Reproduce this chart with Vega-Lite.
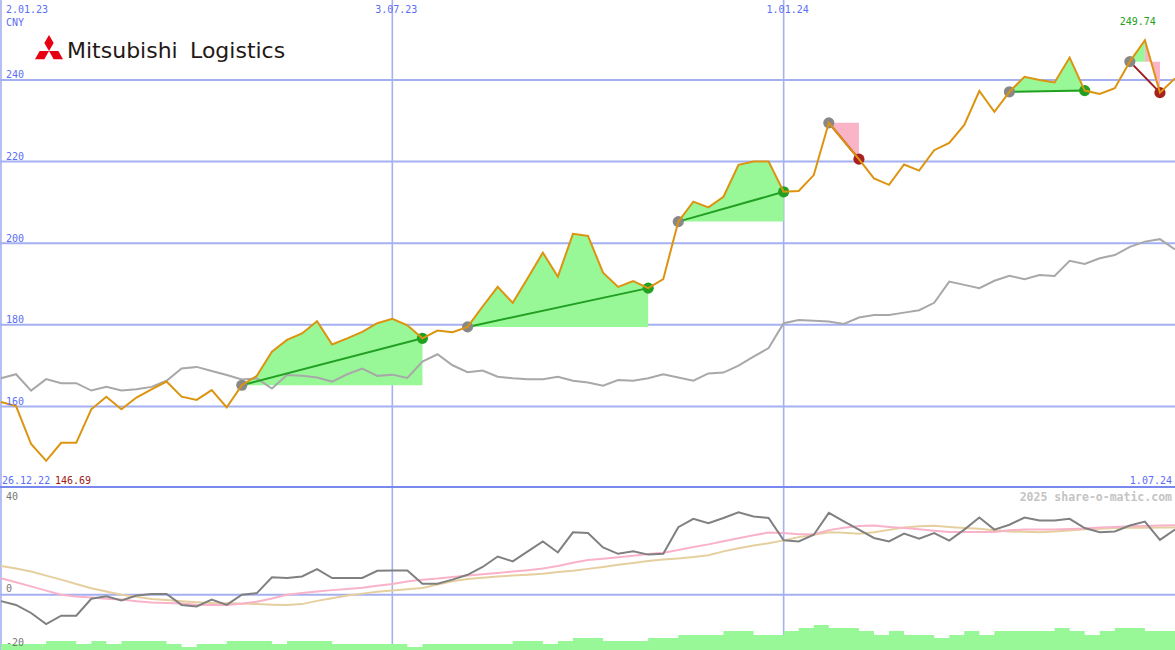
{
  "$schema": "https://vega.github.io/schema/vega-lite/v6.json",
  "width": 1175,
  "height": 650,
  "autosize": "none",
  "padding": 0,
  "background": "#ffffff",
  "config": {"view": {"stroke": null}},
  "resolve": {"scale": {"y": "independent", "color": "independent"}},
  "datasets": {
    "w": [
      {"d":"2023-01-02","price":161.1,"bench":166.9,"mom":-2.4,"sig":6.1,"slow":10.7,"vol":6},
      {"d":"2023-01-09","price":160.1,"bench":167.9,"mom":-3.8,"sig":4.6,"slow":9.7,"vol":6},
      {"d":"2023-01-16","price":150.8,"bench":163.9,"mom":-6.8,"sig":3.1,"slow":8.6,"vol":6},
      {"d":"2023-01-23","price":146.69,"bench":166.7,"mom":-10.9,"sig":1.5,"slow":7.1,"vol":9},
      {"d":"2023-01-30","price":151.1,"bench":165.7,"mom":-7.8,"sig":0,"slow":5.6,"vol":9},
      {"d":"2023-02-06","price":151.1,"bench":165.7,"mom":-7.8,"sig":-0.7,"slow":4.0,"vol":6},
      {"d":"2023-02-13","price":159.3,"bench":163.9,"mom":-1.5,"sig":-1.0,"slow":2.4,"vol":9},
      {"d":"2023-02-20","price":162.4,"bench":164.8,"mom":-0.6,"sig":-1.5,"slow":1.2,"vol":6},
      {"d":"2023-02-27","price":159.3,"bench":163.9,"mom":-2.1,"sig":-1.8,"slow":0,"vol":9},
      {"d":"2023-03-06","price":162.2,"bench":164.2,"mom":-0.3,"sig":-2.4,"slow":-0.8,"vol":9},
      {"d":"2023-03-13","price":164.2,"bench":164.8,"mom":0.3,"sig":-2.9,"slow":-1.6,"vol":9},
      {"d":"2023-03-20","price":166.1,"bench":166.3,"mom":0.3,"sig":-3.1,"slow":-2.0,"vol":6},
      {"d":"2023-03-27","price":162.4,"bench":169.3,"mom":-3.8,"sig":-3.3,"slow":-2.4,"vol":3},
      {"d":"2023-04-03","price":161.6,"bench":169.7,"mom":-4.4,"sig":-3.7,"slow":-2.8,"vol":6},
      {"d":"2023-04-10","price":164.0,"bench":168.7,"mom":-1.8,"sig":-3.8,"slow":-3.1,"vol":6},
      {"d":"2023-04-17","price":159.8,"bench":167.7,"mom":-3.8,"sig":-3.8,"slow":-3.2,"vol":9},
      {"d":"2023-04-24","price":165.2,"bench":166.6,"mom":0,"sig":-3.4,"slow":-3.3,"vol":9},
      {"d":"2023-05-01","price":167.5,"bench":166.9,"mom":0.6,"sig":-2.6,"slow":-3.5,"vol":9},
      {"d":"2023-05-08","price":173.4,"bench":164.4,"mom":6.5,"sig":-1.4,"slow":-3.7,"vol":6},
      {"d":"2023-05-15","price":176.3,"bench":167.7,"mom":6.2,"sig":0,"slow":-3.8,"vol":9},
      {"d":"2023-05-22","price":177.9,"bench":167.5,"mom":6.8,"sig":0.6,"slow":-3.5,"vol":9},
      {"d":"2023-05-29","price":180.9,"bench":167.1,"mom":9.5,"sig":1.2,"slow":-2.3,"vol":9},
      {"d":"2023-06-05","price":175.2,"bench":166.1,"mom":6.2,"sig":1.7,"slow":-1.3,"vol":6},
      {"d":"2023-06-12","price":176.7,"bench":167.9,"mom":6.2,"sig":2.1,"slow":-0.3,"vol":6},
      {"d":"2023-06-19","price":178.3,"bench":169.3,"mom":6.2,"sig":2.6,"slow":0.4,"vol":6},
      {"d":"2023-06-26","price":180.4,"bench":167.5,"mom":8.9,"sig":3.3,"slow":1.1,"vol":6},
      {"d":"2023-07-03","price":181.5,"bench":167.8,"mom":9.0,"sig":4.0,"slow":1.6,"vol":6},
      {"d":"2023-07-10","price":179.9,"bench":167.0,"mom":9.0,"sig":4.9,"slow":2.0,"vol":3},
      {"d":"2023-07-17","price":176.7,"bench":171.0,"mom":4.1,"sig":5.6,"slow":2.5,"vol":6},
      {"d":"2023-07-24","price":178.6,"bench":172.8,"mom":4.1,"sig":6.0,"slow":3.8,"vol":6},
      {"d":"2023-07-31","price":178.2,"bench":170.1,"mom":5.6,"sig":6.6,"slow":5.0,"vol":6},
      {"d":"2023-08-07","price":179.5,"bench":168.4,"mom":7.4,"sig":7.1,"slow":5.8,"vol":6},
      {"d":"2023-08-14","price":184.5,"bench":168.8,"mom":10.3,"sig":7.6,"slow":6.3,"vol":6},
      {"d":"2023-08-21","price":189.3,"bench":167.3,"mom":14.2,"sig":8.1,"slow":6.8,"vol":6},
      {"d":"2023-08-28","price":185.4,"bench":166.9,"mom":12.4,"sig":8.6,"slow":7.1,"vol":9},
      {"d":"2023-09-04","price":191.5,"bench":166.7,"mom":16.1,"sig":9.1,"slow":7.4,"vol":9},
      {"d":"2023-09-11","price":197.7,"bench":166.7,"mom":19.8,"sig":9.7,"slow":7.8,"vol":6},
      {"d":"2023-09-18","price":191.8,"bench":167.3,"mom":15.7,"sig":10.7,"slow":8.4,"vol":9},
      {"d":"2023-09-25","price":202.3,"bench":166.3,"mom":23.2,"sig":11.9,"slow":8.9,"vol":12},
      {"d":"2023-10-02","price":201.8,"bench":165.9,"mom":22.9,"sig":12.9,"slow":9.6,"vol":12},
      {"d":"2023-10-09","price":192.8,"bench":165.1,"mom":17.6,"sig":13.4,"slow":10.3,"vol":9},
      {"d":"2023-10-16","price":189.3,"bench":166.5,"mom":15.2,"sig":13.9,"slow":11.1,"vol":9},
      {"d":"2023-10-23","price":190.7,"bench":166.3,"mom":16.1,"sig":14.5,"slow":11.8,"vol":9},
      {"d":"2023-10-30","price":189.0,"bench":166.9,"mom":14.9,"sig":15.1,"slow":12.5,"vol":12},
      {"d":"2023-11-06","price":191.2,"bench":167.9,"mom":15.2,"sig":15.6,"slow":13.1,"vol":12},
      {"d":"2023-11-13","price":205.3,"bench":167.1,"mom":25.1,"sig":16.6,"slow":13.5,"vol":15},
      {"d":"2023-11-20","price":210.2,"bench":166.3,"mom":28.2,"sig":17.7,"slow":14.0,"vol":15},
      {"d":"2023-11-27","price":208.8,"bench":168.1,"mom":26.6,"sig":18.7,"slow":14.7,"vol":15},
      {"d":"2023-12-04","price":211.4,"bench":168.3,"mom":28.5,"sig":19.9,"slow":16.1,"vol":19},
      {"d":"2023-12-11","price":219.2,"bench":170.0,"mom":30.6,"sig":21.0,"slow":17.3,"vol":19},
      {"d":"2023-12-18","price":220.0,"bench":172.2,"mom":29.1,"sig":22.1,"slow":18.3,"vol":15},
      {"d":"2023-12-25","price":220.0,"bench":174.3,"mom":28.5,"sig":23.1,"slow":19.1,"vol":15},
      {"d":"2024-01-01","price":212.6,"bench":180.4,"mom":20.2,"sig":22.9,"slow":20.2,"vol":19},
      {"d":"2024-01-08","price":212.8,"bench":181.2,"mom":19.8,"sig":22.5,"slow":21.4,"vol":22},
      {"d":"2024-01-15","price":216.7,"bench":181.0,"mom":22.3,"sig":22.5,"slow":22.3,"vol":25},
      {"d":"2024-01-22","price":229.5,"bench":180.8,"mom":30.4,"sig":24.0,"slow":23.2,"vol":22},
      {"d":"2024-01-29","price":225.0,"bench":180.2,"mom":27.3,"sig":24.9,"slow":23.0,"vol":22},
      {"d":"2024-02-05","price":220.6,"bench":181.8,"mom":24.2,"sig":25.5,"slow":22.7,"vol":19},
      {"d":"2024-02-12","price":215.9,"bench":182.4,"mom":21.1,"sig":25.7,"slow":23.2,"vol":15},
      {"d":"2024-02-19","price":214.3,"bench":182.4,"mom":19.8,"sig":25.2,"slow":24.1,"vol":19},
      {"d":"2024-02-26","price":219.3,"bench":183.0,"mom":22.7,"sig":24.8,"slow":25.0,"vol":15},
      {"d":"2024-03-04","price":217.8,"bench":183.6,"mom":20.8,"sig":24.3,"slow":25.4,"vol":15},
      {"d":"2024-03-11","price":222.8,"bench":185.4,"mom":22.9,"sig":23.8,"slow":25.6,"vol":12},
      {"d":"2024-03-18","price":224.6,"bench":190.6,"mom":20.1,"sig":23.3,"slow":25.2,"vol":15},
      {"d":"2024-03-25","price":229.0,"bench":189.8,"mom":24.2,"sig":23.3,"slow":24.8,"vol":19},
      {"d":"2024-04-01","price":237.3,"bench":189.0,"mom":28.7,"sig":23.3,"slow":24.5,"vol":15},
      {"d":"2024-04-08","price":232.2,"bench":190.8,"mom":24.2,"sig":23.3,"slow":24.0,"vol":19},
      {"d":"2024-04-15","price":237.1,"bench":192.0,"mom":26.0,"sig":24.0,"slow":23.5,"vol":19},
      {"d":"2024-04-22","price":240.8,"bench":191.2,"mom":28.7,"sig":24.2,"slow":23.4,"vol":19},
      {"d":"2024-04-29","price":240.0,"bench":192.2,"mom":27.6,"sig":24.2,"slow":23.2,"vol":19},
      {"d":"2024-05-06","price":239.4,"bench":192.0,"mom":27.6,"sig":24.2,"slow":23.5,"vol":22},
      {"d":"2024-05-13","price":245.5,"bench":195.7,"mom":28.2,"sig":24.4,"slow":23.9,"vol":19},
      {"d":"2024-05-20","price":237.4,"bench":194.9,"mom":24.8,"sig":24.6,"slow":24.3,"vol":15},
      {"d":"2024-05-27","price":236.6,"bench":196.3,"mom":23.2,"sig":25.0,"slow":24.5,"vol":19},
      {"d":"2024-06-03","price":238.0,"bench":197.1,"mom":23.5,"sig":25.2,"slow":24.8,"vol":22},
      {"d":"2024-06-10","price":244.5,"bench":199.1,"mom":25.7,"sig":25.4,"slow":24.9,"vol":22},
      {"d":"2024-06-17","price":249.74,"bench":200.4,"mom":27.2,"sig":25.5,"slow":24.9,"vol":19},
      {"d":"2024-06-24","price":236.9,"bench":201.0,"mom":20.4,"sig":25.7,"slow":25.0,"vol":19},
      {"d":"2024-07-01","price":240.4,"bench":198.5,"mom":24.2,"sig":25.8,"slow":25.0,"vol":19}
    ],
    "fills": [
      {"grp":"1","kind":"up","d":"2023-04-24","price":165.2,"base":165.2},
      {"grp":"1","kind":"up","d":"2023-05-01","price":167.5,"base":165.2},
      {"grp":"1","kind":"up","d":"2023-05-08","price":173.4,"base":165.2},
      {"grp":"1","kind":"up","d":"2023-05-15","price":176.3,"base":165.2},
      {"grp":"1","kind":"up","d":"2023-05-22","price":177.9,"base":165.2},
      {"grp":"1","kind":"up","d":"2023-05-29","price":180.9,"base":165.2},
      {"grp":"1","kind":"up","d":"2023-06-05","price":175.2,"base":165.2},
      {"grp":"1","kind":"up","d":"2023-06-12","price":176.7,"base":165.2},
      {"grp":"1","kind":"up","d":"2023-06-19","price":178.3,"base":165.2},
      {"grp":"1","kind":"up","d":"2023-06-26","price":180.4,"base":165.2},
      {"grp":"1","kind":"up","d":"2023-07-03","price":181.5,"base":165.2},
      {"grp":"1","kind":"up","d":"2023-07-10","price":179.9,"base":165.2},
      {"grp":"1","kind":"up","d":"2023-07-17","price":176.7,"base":165.2},
      {"grp":"2","kind":"up","d":"2023-08-07","price":179.5,"base":179.5},
      {"grp":"2","kind":"up","d":"2023-08-14","price":184.5,"base":179.5},
      {"grp":"2","kind":"up","d":"2023-08-21","price":189.3,"base":179.5},
      {"grp":"2","kind":"up","d":"2023-08-28","price":185.4,"base":179.5},
      {"grp":"2","kind":"up","d":"2023-09-04","price":191.5,"base":179.5},
      {"grp":"2","kind":"up","d":"2023-09-11","price":197.7,"base":179.5},
      {"grp":"2","kind":"up","d":"2023-09-18","price":191.8,"base":179.5},
      {"grp":"2","kind":"up","d":"2023-09-25","price":202.3,"base":179.5},
      {"grp":"2","kind":"up","d":"2023-10-02","price":201.8,"base":179.5},
      {"grp":"2","kind":"up","d":"2023-10-09","price":192.8,"base":179.5},
      {"grp":"2","kind":"up","d":"2023-10-16","price":189.3,"base":179.5},
      {"grp":"2","kind":"up","d":"2023-10-23","price":190.7,"base":179.5},
      {"grp":"2","kind":"up","d":"2023-10-30","price":189.0,"base":179.5},
      {"grp":"3","kind":"up","d":"2023-11-13","price":205.3,"base":205.3},
      {"grp":"3","kind":"up","d":"2023-11-20","price":210.2,"base":205.3},
      {"grp":"3","kind":"up","d":"2023-11-27","price":208.8,"base":205.3},
      {"grp":"3","kind":"up","d":"2023-12-04","price":211.4,"base":205.3},
      {"grp":"3","kind":"up","d":"2023-12-11","price":219.2,"base":205.3},
      {"grp":"3","kind":"up","d":"2023-12-18","price":220.0,"base":205.3},
      {"grp":"3","kind":"up","d":"2023-12-25","price":220.0,"base":205.3},
      {"grp":"3","kind":"up","d":"2024-01-01","price":212.6,"base":205.3},
      {"grp":"4","kind":"down","d":"2024-01-22","price":229.5,"base":229.5},
      {"grp":"4","kind":"down","d":"2024-01-29","price":225.0,"base":229.5},
      {"grp":"4","kind":"down","d":"2024-02-05","price":220.6,"base":229.5},
      {"grp":"5","kind":"up","d":"2024-04-15","price":237.1,"base":237.1},
      {"grp":"5","kind":"up","d":"2024-04-22","price":240.8,"base":237.1},
      {"grp":"5","kind":"up","d":"2024-04-29","price":240.0,"base":237.1},
      {"grp":"5","kind":"up","d":"2024-05-06","price":239.4,"base":237.1},
      {"grp":"5","kind":"up","d":"2024-05-13","price":245.5,"base":237.1},
      {"grp":"5","kind":"up","d":"2024-05-20","price":237.4,"base":237.1},
      {"grp":"6b","kind":"down","d":"2024-06-17","price":249.74,"base":244.5},
      {"grp":"6b","kind":"down","d":"2024-06-24","price":236.9,"base":244.5},
      {"grp":"6a","kind":"up","d":"2024-06-10","price":244.5,"base":244.5},
      {"grp":"6a","kind":"up","d":"2024-06-17","price":249.74,"base":244.5}
    ],
    "trend": [
      {"grp":"1","kind":"up","role":"start","d":"2023-04-24","price":165.2},
      {"grp":"1","kind":"up","role":"end","d":"2023-07-17","price":176.7},
      {"grp":"2","kind":"up","role":"start","d":"2023-08-07","price":179.5},
      {"grp":"2","kind":"up","role":"end","d":"2023-10-30","price":189.0},
      {"grp":"3","kind":"up","role":"start","d":"2023-11-13","price":205.3},
      {"grp":"3","kind":"up","role":"end","d":"2024-01-01","price":212.6},
      {"grp":"4","kind":"down","role":"start","d":"2024-01-22","price":229.5},
      {"grp":"4","kind":"down","role":"end","d":"2024-02-05","price":220.6},
      {"grp":"5","kind":"up","role":"start","d":"2024-04-15","price":237.1},
      {"grp":"5","kind":"up","role":"end","d":"2024-05-20","price":237.4},
      {"grp":"6","kind":"down","role":"start","d":"2024-06-10","price":244.5},
      {"grp":"6","kind":"down","role":"end","d":"2024-06-24","price":236.9}
    ],
    "grid": [
      {"d":"2023-01-02","t":"2.01.23"},
      {"d":"2023-07-03","t":"3.07.23"},
      {"d":"2024-01-01","t":"1.01.24"}
    ],
    "ylab": [
      {"d":"2023-01-02","v":160,"t":"160"},
      {"d":"2023-01-02","v":180,"t":"180"},
      {"d":"2023-01-02","v":200,"t":"200"},
      {"d":"2023-01-02","v":220,"t":"220"},
      {"d":"2023-01-02","v":240,"t":"240"}
    ],
    "top": [
      {"d":"2023-01-02","v":259.6,"t":"2.01.23"},
      {"d":"2023-07-03","v":259.6,"t":"3.07.23"},
      {"d":"2024-01-01","v":259.6,"t":"1.01.24"}
    ],
    "llab": [
      {"d":"2023-01-02","v":0,"t":"0"},
      {"d":"2023-01-02","v":-20,"t":"-20"}
    ]
  },
  "layer": [
    {
      "data": {"name": "grid"},
      "mark": {"type": "rule", "color": "#a4b0f0", "strokeWidth": 1.6},
      "encoding": {
        "x": {"field": "d", "type": "temporal", "axis": null, "scale": {"type": "utc", "domain": [{"year": 2023, "month": 1, "date": 1, "hours": 13, "utc": true}, {"year": 2024, "month": 7, "date": 1, "utc": true}]}}
      }
    },
    {
      "data": {"name": "ylab"},
      "mark": {"type": "rule", "color": "#a4b0f0", "strokeWidth": 2},
      "encoding": {
        "y": {"field": "v", "type": "quantitative", "axis": null, "scale": {"domain": [100.33, 259.6], "nice": false, "zero": false}}
      }
    },
    {
      "data": {"values": [{"v": 0}]},
      "mark": {"type": "rule", "color": "#a4b0f0", "strokeWidth": 2},
      "encoding": {
        "y": {"field": "v", "type": "quantitative", "axis": null, "scale": {"domain": [-20.56, 221.08], "nice": false, "zero": false}}
      }
    },
    {
      "data": {"values": [{"v": 40}]},
      "mark": {"type": "rule", "color": "#7888ee", "strokeWidth": 2},
      "encoding": {
        "y": {"field": "v", "type": "quantitative", "axis": null, "scale": {"domain": [-20.56, 221.08], "nice": false, "zero": false}}
      }
    },
    {
      "data": {"name": "w"},
      "mark": {"type": "area", "interpolate": "step-after", "color": "#98f898", "opacity": 1},
      "encoding": {
        "x": {"field": "d", "type": "temporal", "axis": null, "scale": {"type": "utc", "domain": [{"year": 2023, "month": 1, "date": 1, "hours": 13, "utc": true}, {"year": 2024, "month": 7, "date": 1, "utc": true}]}},
        "y": {"field": "vol", "type": "quantitative", "axis": null, "stack": null, "scale": {"domain": [0, 650], "nice": false, "zero": true}}
      }
    },
    {
      "data": {"name": "w"},
      "mark": {"type": "line", "color": "#e6cf9f", "strokeWidth": 2},
      "encoding": {
        "x": {"field": "d", "type": "temporal", "axis": null, "scale": {"type": "utc", "domain": [{"year": 2023, "month": 1, "date": 1, "hours": 13, "utc": true}, {"year": 2024, "month": 7, "date": 1, "utc": true}]}},
        "y": {"field": "slow", "type": "quantitative", "axis": null, "scale": {"domain": [-20.56, 221.08], "nice": false, "zero": false}}
      }
    },
    {
      "data": {"name": "w"},
      "mark": {"type": "line", "color": "#f9b3c9", "strokeWidth": 2},
      "encoding": {
        "x": {"field": "d", "type": "temporal", "axis": null, "scale": {"type": "utc", "domain": [{"year": 2023, "month": 1, "date": 1, "hours": 13, "utc": true}, {"year": 2024, "month": 7, "date": 1, "utc": true}]}},
        "y": {"field": "sig", "type": "quantitative", "axis": null, "scale": {"domain": [-20.56, 221.08], "nice": false, "zero": false}}
      }
    },
    {
      "data": {"name": "w"},
      "mark": {"type": "line", "color": "#808080", "strokeWidth": 2},
      "encoding": {
        "x": {"field": "d", "type": "temporal", "axis": null, "scale": {"type": "utc", "domain": [{"year": 2023, "month": 1, "date": 1, "hours": 13, "utc": true}, {"year": 2024, "month": 7, "date": 1, "utc": true}]}},
        "y": {"field": "mom", "type": "quantitative", "axis": null, "scale": {"domain": [-20.56, 221.08], "nice": false, "zero": false}}
      }
    },
    {
      "data": {"name": "fills"},
      "mark": {"type": "area", "opacity": 1},
      "encoding": {
        "x": {"field": "d", "type": "temporal", "axis": null, "scale": {"type": "utc", "domain": [{"year": 2023, "month": 1, "date": 1, "hours": 13, "utc": true}, {"year": 2024, "month": 7, "date": 1, "utc": true}]}},
        "y": {"field": "price", "type": "quantitative", "axis": null, "stack": null, "scale": {"domain": [100.33, 259.6], "nice": false, "zero": false}},
        "y2": {"field": "base"},
        "detail": {"field": "grp", "type": "nominal"},
        "color": {"field": "kind", "type": "nominal", "legend": null, "scale": {"domain": ["up", "down"], "range": ["#98f898", "#fab4c8"]}}
      }
    },
    {
      "data": {"name": "w"},
      "mark": {"type": "line", "color": "#a8a8a8", "strokeWidth": 2},
      "encoding": {
        "x": {"field": "d", "type": "temporal", "axis": null, "scale": {"type": "utc", "domain": [{"year": 2023, "month": 1, "date": 1, "hours": 13, "utc": true}, {"year": 2024, "month": 7, "date": 1, "utc": true}]}},
        "y": {"field": "bench", "type": "quantitative", "axis": null, "scale": {"domain": [100.33, 259.6], "nice": false, "zero": false}}
      }
    },
    {
      "data": {"name": "trend"},
      "mark": {"type": "line", "strokeWidth": 2},
      "encoding": {
        "x": {"field": "d", "type": "temporal", "axis": null, "scale": {"type": "utc", "domain": [{"year": 2023, "month": 1, "date": 1, "hours": 13, "utc": true}, {"year": 2024, "month": 7, "date": 1, "utc": true}]}},
        "y": {"field": "price", "type": "quantitative", "axis": null, "scale": {"domain": [100.33, 259.6], "nice": false, "zero": false}},
        "detail": {"field": "grp", "type": "nominal"},
        "color": {"field": "kind", "type": "nominal", "legend": null, "scale": {"domain": ["up", "down"], "range": ["#22a022", "#a01c1c"]}}
      }
    },
    {
      "data": {"name": "trend"},
      "transform": [{"filter": "datum.role === 'start'"}],
      "mark": {"type": "point", "filled": true, "size": 125, "opacity": 1, "color": "#888888"},
      "encoding": {
        "x": {"field": "d", "type": "temporal", "axis": null, "scale": {"type": "utc", "domain": [{"year": 2023, "month": 1, "date": 1, "hours": 13, "utc": true}, {"year": 2024, "month": 7, "date": 1, "utc": true}]}},
        "y": {"field": "price", "type": "quantitative", "axis": null, "scale": {"domain": [100.33, 259.6], "nice": false, "zero": false}}
      }
    },
    {
      "data": {"name": "trend"},
      "transform": [{"filter": "datum.role === 'end'"}],
      "mark": {"type": "point", "filled": true, "size": 125, "opacity": 1},
      "encoding": {
        "x": {"field": "d", "type": "temporal", "axis": null, "scale": {"type": "utc", "domain": [{"year": 2023, "month": 1, "date": 1, "hours": 13, "utc": true}, {"year": 2024, "month": 7, "date": 1, "utc": true}]}},
        "y": {"field": "price", "type": "quantitative", "axis": null, "scale": {"domain": [100.33, 259.6], "nice": false, "zero": false}},
        "color": {"field": "kind", "type": "nominal", "legend": null, "scale": {"domain": ["up", "down"], "range": ["#22a022", "#a82020"]}}
      }
    },
    {
      "data": {"name": "w"},
      "mark": {"type": "line", "color": "#dc9410", "strokeWidth": 2},
      "encoding": {
        "x": {"field": "d", "type": "temporal", "axis": null, "scale": {"type": "utc", "domain": [{"year": 2023, "month": 1, "date": 1, "hours": 13, "utc": true}, {"year": 2024, "month": 7, "date": 1, "utc": true}]}},
        "y": {"field": "price", "type": "quantitative", "axis": null, "scale": {"domain": [100.33, 259.6], "nice": false, "zero": false}}
      }
    },
    {
      "data": {"name": "ylab"},
      "mark": {"type": "text", "align": "left", "baseline": "alphabetic", "dx": 5, "dy": -1.5, "font": "DejaVu Sans Mono", "fontSize": 10, "color": "#5b6ef5"},
      "encoding": {
        "x": {"field": "d", "type": "temporal", "axis": null, "scale": {"type": "utc", "domain": [{"year": 2023, "month": 1, "date": 1, "hours": 13, "utc": true}, {"year": 2024, "month": 7, "date": 1, "utc": true}]}},
        "y": {"field": "v", "type": "quantitative", "axis": null, "scale": {"domain": [100.33, 259.6], "nice": false, "zero": false}},
        "text": {"field": "t"}
      }
    },
    {
      "data": {"name": "top"},
      "transform": [{"filter": "datum.t !== '2.01.23'"}],
      "mark": {"type": "text", "align": "center", "baseline": "alphabetic", "dx": 4, "dy": 12.5, "font": "DejaVu Sans Mono", "fontSize": 10, "color": "#5b6ef5"},
      "encoding": {
        "x": {"field": "d", "type": "temporal", "axis": null, "scale": {"type": "utc", "domain": [{"year": 2023, "month": 1, "date": 1, "hours": 13, "utc": true}, {"year": 2024, "month": 7, "date": 1, "utc": true}]}},
        "y": {"field": "v", "type": "quantitative", "axis": null, "scale": {"domain": [100.33, 259.6], "nice": false, "zero": false}},
        "text": {"field": "t"}
      }
    },
    {
      "data": {"name": "top"},
      "transform": [{"filter": "datum.t === '2.01.23'"}],
      "mark": {"type": "text", "align": "left", "baseline": "alphabetic", "dx": 5, "dy": 12.5, "font": "DejaVu Sans Mono", "fontSize": 10, "color": "#5b6ef5"},
      "encoding": {
        "x": {"field": "d", "type": "temporal", "axis": null, "scale": {"type": "utc", "domain": [{"year": 2023, "month": 1, "date": 1, "hours": 13, "utc": true}, {"year": 2024, "month": 7, "date": 1, "utc": true}]}},
        "y": {"field": "v", "type": "quantitative", "axis": null, "scale": {"domain": [100.33, 259.6], "nice": false, "zero": false}},
        "text": {"field": "t"}
      }
    },
    {
      "data": {"values": [{"d": "2023-01-02", "v": 259.6, "t": "CNY"}]},
      "mark": {"type": "text", "align": "left", "baseline": "alphabetic", "dx": 5, "dy": 25.5, "font": "DejaVu Sans Mono", "fontSize": 10, "color": "#5b6ef5"},
      "encoding": {
        "x": {"field": "d", "type": "temporal", "axis": null, "scale": {"type": "utc", "domain": [{"year": 2023, "month": 1, "date": 1, "hours": 13, "utc": true}, {"year": 2024, "month": 7, "date": 1, "utc": true}]}},
        "y": {"field": "v", "type": "quantitative", "axis": null, "scale": {"domain": [100.33, 259.6], "nice": false, "zero": false}},
        "text": {"field": "t"}
      }
    },
    {
      "data": {"values": [{"d": "2024-06-17", "v": 259.6, "t": "249.74"}]},
      "mark": {"type": "text", "align": "right", "baseline": "alphabetic", "dx": 11, "dy": 25, "font": "DejaVu Sans Mono", "fontSize": 10, "color": "#22a022"},
      "encoding": {
        "x": {"field": "d", "type": "temporal", "axis": null, "scale": {"type": "utc", "domain": [{"year": 2023, "month": 1, "date": 1, "hours": 13, "utc": true}, {"year": 2024, "month": 7, "date": 1, "utc": true}]}},
        "y": {"field": "v", "type": "quantitative", "axis": null, "scale": {"domain": [100.33, 259.6], "nice": false, "zero": false}},
        "text": {"field": "t"}
      }
    },
    {
      "data": {"values": [{"d": "2023-01-02", "v": 40, "t": "26.12.22"}]},
      "mark": {"type": "text", "align": "left", "baseline": "alphabetic", "dx": 1, "dy": -3.5, "font": "DejaVu Sans Mono", "fontSize": 10, "color": "#5b6ef5"},
      "encoding": {
        "x": {"field": "d", "type": "temporal", "axis": null, "scale": {"type": "utc", "domain": [{"year": 2023, "month": 1, "date": 1, "hours": 13, "utc": true}, {"year": 2024, "month": 7, "date": 1, "utc": true}]}},
        "y": {"field": "v", "type": "quantitative", "axis": null, "scale": {"domain": [-20.56, 221.08], "nice": false, "zero": false}},
        "text": {"field": "t"}
      }
    },
    {
      "data": {"values": [{"d": "2023-01-02", "v": 40, "t": "146.69"}]},
      "mark": {"type": "text", "align": "left", "baseline": "alphabetic", "dx": 54, "dy": -3.5, "font": "DejaVu Sans Mono", "fontSize": 10, "color": "#a01818"},
      "encoding": {
        "x": {"field": "d", "type": "temporal", "axis": null, "scale": {"type": "utc", "domain": [{"year": 2023, "month": 1, "date": 1, "hours": 13, "utc": true}, {"year": 2024, "month": 7, "date": 1, "utc": true}]}},
        "y": {"field": "v", "type": "quantitative", "axis": null, "scale": {"domain": [-20.56, 221.08], "nice": false, "zero": false}},
        "text": {"field": "t"}
      }
    },
    {
      "data": {"values": [{"d": "2024-07-01", "v": 40, "t": "1.07.24"}]},
      "mark": {"type": "text", "align": "right", "baseline": "alphabetic", "dx": -3, "dy": -3.5, "font": "DejaVu Sans Mono", "fontSize": 10, "color": "#5b6ef5"},
      "encoding": {
        "x": {"field": "d", "type": "temporal", "axis": null, "scale": {"type": "utc", "domain": [{"year": 2023, "month": 1, "date": 1, "hours": 13, "utc": true}, {"year": 2024, "month": 7, "date": 1, "utc": true}]}},
        "y": {"field": "v", "type": "quantitative", "axis": null, "scale": {"domain": [-20.56, 221.08], "nice": false, "zero": false}},
        "text": {"field": "t"}
      }
    },
    {
      "data": {"values": [{"d": "2023-01-02", "v": 40, "t": "40"}]},
      "mark": {"type": "text", "align": "left", "baseline": "alphabetic", "dx": 5, "dy": 12.5, "font": "DejaVu Sans Mono", "fontSize": 10, "color": "#777777"},
      "encoding": {
        "x": {"field": "d", "type": "temporal", "axis": null, "scale": {"type": "utc", "domain": [{"year": 2023, "month": 1, "date": 1, "hours": 13, "utc": true}, {"year": 2024, "month": 7, "date": 1, "utc": true}]}},
        "y": {"field": "v", "type": "quantitative", "axis": null, "scale": {"domain": [-20.56, 221.08], "nice": false, "zero": false}},
        "text": {"field": "t"}
      }
    },
    {
      "data": {"name": "llab"},
      "mark": {"type": "text", "align": "left", "baseline": "alphabetic", "dx": 5, "dy": -2.5, "font": "DejaVu Sans Mono", "fontSize": 10, "color": "#777777"},
      "encoding": {
        "x": {"field": "d", "type": "temporal", "axis": null, "scale": {"type": "utc", "domain": [{"year": 2023, "month": 1, "date": 1, "hours": 13, "utc": true}, {"year": 2024, "month": 7, "date": 1, "utc": true}]}},
        "y": {"field": "v", "type": "quantitative", "axis": null, "scale": {"domain": [-20.56, 221.08], "nice": false, "zero": false}},
        "text": {"field": "t"}
      }
    },
    {
      "data": {"values": [{"d": "2024-07-01", "v": 40, "t": "2025 share-o-matic.com"}]},
      "mark": {"type": "text", "align": "right", "baseline": "alphabetic", "dx": -3, "dy": 14, "font": "DejaVu Sans Mono", "fontSize": 11.5, "fontWeight": "bold", "color": "#c4c4c4"},
      "encoding": {
        "x": {"field": "d", "type": "temporal", "axis": null, "scale": {"type": "utc", "domain": [{"year": 2023, "month": 1, "date": 1, "hours": 13, "utc": true}, {"year": 2024, "month": 7, "date": 1, "utc": true}]}},
        "y": {"field": "v", "type": "quantitative", "axis": null, "scale": {"domain": [-20.56, 221.08], "nice": false, "zero": false}},
        "text": {"field": "t"}
      }
    },
    {
      "data": {"values": [{"d": "2023-01-24T08:00:00Z", "v": 248.08}]},
      "mark": {"type": "point", "filled": true, "opacity": 1, "size": 784, "strokeWidth": 0, "color": "#e60012", "shape": "M0,0.289L0.333,-0.289L0,-0.866L-0.333,-0.289ZM0,0.289L0.333,0.866L1,0.866L0.667,0.289ZM0,0.289L-0.333,0.866L-1,0.866L-0.667,0.289Z"},
      "encoding": {
        "x": {"field": "d", "type": "temporal", "axis": null, "scale": {"type": "utc", "domain": [{"year": 2023, "month": 1, "date": 1, "hours": 13, "utc": true}, {"year": 2024, "month": 7, "date": 1, "utc": true}]}},
        "y": {"field": "v", "type": "quantitative", "axis": null, "scale": {"domain": [100.33, 259.6], "nice": false, "zero": false}}
      }
    },
    {
      "data": {"values": [{"d": "2023-01-24T08:00:00Z", "v": 248.08, "t": "Mitsubishi"}]},
      "mark": {"type": "text", "align": "left", "baseline": "alphabetic", "dx": 18, "dy": 10.5, "font": "DejaVu Sans", "fontSize": 22, "color": "#231815"},
      "encoding": {
        "x": {"field": "d", "type": "temporal", "axis": null, "scale": {"type": "utc", "domain": [{"year": 2023, "month": 1, "date": 1, "hours": 13, "utc": true}, {"year": 2024, "month": 7, "date": 1, "utc": true}]}},
        "y": {"field": "v", "type": "quantitative", "axis": null, "scale": {"domain": [100.33, 259.6], "nice": false, "zero": false}},
        "text": {"field": "t"}
      }
    },
    {
      "data": {"values": [{"d": "2023-01-24T08:00:00Z", "v": 248.08, "t": "Logistics"}]},
      "mark": {"type": "text", "align": "left", "baseline": "alphabetic", "dx": 141, "dy": 10.5, "font": "DejaVu Sans", "fontSize": 22, "color": "#231815"},
      "encoding": {
        "x": {"field": "d", "type": "temporal", "axis": null, "scale": {"type": "utc", "domain": [{"year": 2023, "month": 1, "date": 1, "hours": 13, "utc": true}, {"year": 2024, "month": 7, "date": 1, "utc": true}]}},
        "y": {"field": "v", "type": "quantitative", "axis": null, "scale": {"domain": [100.33, 259.6], "nice": false, "zero": false}},
        "text": {"field": "t"}
      }
    }
  ]
}
